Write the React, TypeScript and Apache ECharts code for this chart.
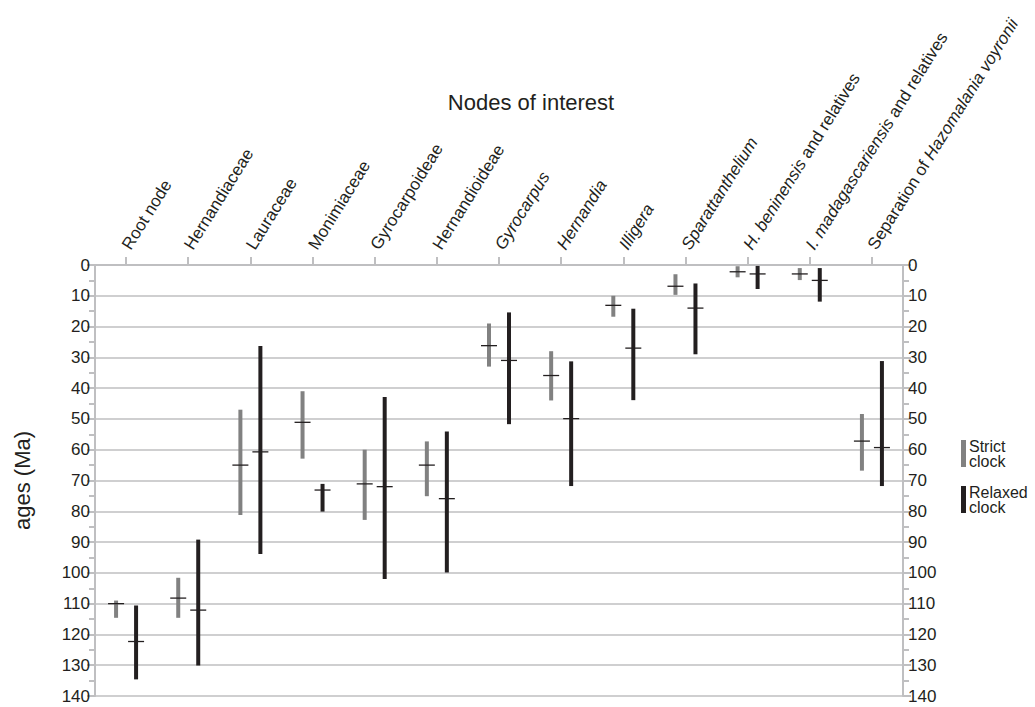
import React, { useEffect, useRef } from "react";
import * as echarts from "echarts";

const categories = [
  "Root node",
  "Hernandiaceae",
  "Lauraceae",
  "Monimiaceae",
  "Gyrocarpoideae",
  "Hernandioideae",
  "{i|Gyrocarpus}",
  "{i|Hernandia}",
  "{i|Illigera}",
  "{i|Sparattanthelium}",
  "{i|H. beninensis} and relatives",
  "{i|I. madagascariensis} and relatives",
  "Separation of {i|Hazomalania voyronii}",
];

const strictLow = [109, 101.6, 47, 41, 60, 57.3, 19, 28, 10, 3, 0.4, 1, 48.4];
const strictHigh = [114.6, 114.6, 81.2, 62.9, 82.8, 75.1, 33, 44, 16.8, 9.7, 4, 4.9, 66.8];
const strictMean = [110, 108.2, 65, 51.1, 71.1, 65, 26.2, 35.9, 13.1, 6.9, 2.2, 2.9, 57.2];

const relaxedLow = [110.6, 89.2, 26.3, 71.1, 42.9, 54.1, 15.4, 31.3, 14.2, 6, 0.3, 1, 31.2];
const relaxedHigh = [134.6, 130.1, 93.9, 80.1, 102, 99.9, 51.7, 71.8, 43.9, 29, 7.8, 11.9, 71.8];
const relaxedMean = [122.3, 112.1, 60.7, 73.1, 72, 75.9, 31, 49.9, 27, 14, 2.9, 5, 59.3];

const yTicks = { min: 0, max: 140, interval: 10 };

const STRICT_COLOR = "#818181";
const RELAXED_COLOR = "#231f20";
const AXIS_GRAY = "#bfbfc1";
const TEXT = "#231f20";
const FONT = "'Liberation Sans', Arial, Helvetica, sans-serif";

function makeRender(offset: number, color: string) {
  return (params: any, api: any) => {
    const idx = api.value(0);
    const lo = api.coord([idx, api.value(1)]);
    const hi = api.coord([idx, api.value(2)]);
    const mn = api.coord([idx, api.value(3)]);
    const x = lo[0] + offset;
    return {
      type: "group",
      children: [
        {
          type: "rect",
          shape: { x: x - 2, y: lo[1], width: 4, height: hi[1] - lo[1] },
          style: { fill: color },
        },
        {
          type: "line",
          shape: { x1: x - 8, y1: mn[1], x2: x + 8, y2: mn[1] },
          style: { stroke: RELAXED_COLOR, lineWidth: 1.3 },
        },
      ],
    };
  };
}

function yAxisBase(position: "left" | "right") {
  return {
    type: "value",
    position,
    inverse: true,
    min: yTicks.min,
    max: yTicks.max,
    interval: yTicks.interval,
    axisLine: { show: true, lineStyle: { color: AXIS_GRAY, width: 2 } },
    axisTick: { show: true, length: 8, lineStyle: { color: AXIS_GRAY, width: 2 } },
    minorTick: { show: true, splitNumber: 2, length: 6, lineStyle: { color: AXIS_GRAY, width: 2 } },
    axisLabel: { color: TEXT, fontSize: 17, fontFamily: FONT, margin: 5 },
    splitLine: { show: position === "left", lineStyle: { color: AXIS_GRAY, width: 1.6 } },
  };
}

export default function App() {
  const ref = useRef<HTMLDivElement>(null);
  useEffect(() => {
    document.body.style.margin = "0";
    const chart = echarts.init(ref.current!, undefined, { renderer: "svg" });
    const strictData = categories.map((_, i) => [i, strictLow[i], strictHigh[i], strictMean[i]]);
    const relaxedData = categories.map((_, i) => [i, relaxedLow[i], relaxedHigh[i], relaxedMean[i]]);
    chart.setOption({
      animation: false,
      backgroundColor: "#ffffff",
      textStyle: { fontFamily: FONT },
      grid: { left: 95, right: 132, top: 265, bottom: 11 },
      graphic: [
        {
          type: "text",
          x: 531,
          y: 102,
          style: {
            text: "Nodes of interest",
            fontSize: 22,
            fontFamily: FONT,
            fill: TEXT,
            align: "center",
            verticalAlign: "middle",
          },
        },
      ],
      legend: {
        orient: "vertical",
        left: 956,
        top: 433,
        icon: "rect",
        itemWidth: 5,
        itemHeight: 27,
        itemGap: 15,
        selectedMode: false,
        formatter: (n: string) => n.replace(" ", "\n"),
        textStyle: { color: TEXT, fontSize: 16, lineHeight: 15, fontFamily: FONT, padding: [0, 0, 0, -2] },
        data: ["Strict clock", "Relaxed clock"],
      },
      xAxis: {
        type: "category",
        position: "top",
        data: categories,
        boundaryGap: true,
        axisLine: { show: true, lineStyle: { color: AXIS_GRAY, width: 2 } },
        axisTick: { show: true, alignWithLabel: true, length: 8, lineStyle: { color: AXIS_GRAY, width: 2 } },
        axisLabel: {
          interval: 0,
          rotate: 58,
          margin: 17,
          color: TEXT,
          fontSize: 17,
          fontFamily: FONT,
          rich: { i: { fontStyle: "italic", fontSize: 17, color: TEXT, fontFamily: FONT } },
        },
        splitLine: { show: false },
      },
      yAxis: [
        {
          ...yAxisBase("left"),
          name: "ages (Ma)",
          nameLocation: "middle",
          nameGap: 62,
          nameTextStyle: { fontSize: 22, color: TEXT, fontFamily: FONT },
        },
        yAxisBase("right"),
      ],
      series: [
        {
          name: "Strict clock",
          type: "custom",
          itemStyle: { color: STRICT_COLOR },
          renderItem: makeRender(-10, STRICT_COLOR),
          encode: { x: 0, y: [1, 2, 3] },
          data: strictData,
        },
        {
          name: "Relaxed clock",
          type: "custom",
          itemStyle: { color: RELAXED_COLOR },
          renderItem: makeRender(10, RELAXED_COLOR),
          encode: { x: 0, y: [1, 2, 3] },
          data: relaxedData,
        },
      ],
    });
    return () => chart.dispose();
  }, []);
  return <div ref={ref} style={{ width: 1035, height: 707 }} />;
}
